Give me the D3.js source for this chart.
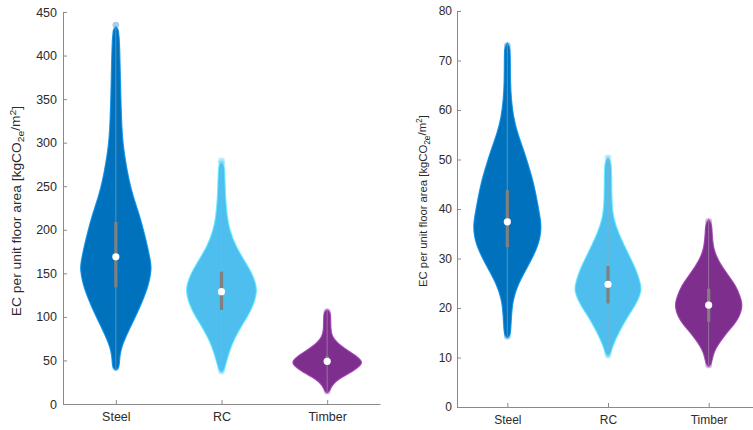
<!DOCTYPE html>
<html>
<head>
<meta charset="utf-8">
<script src="https://cdn.jsdelivr.net/npm/d3@7"></script>
<style>
  html, body { margin: 0; padding: 0; background: #fff; }
  svg { display: block; font-family: "Liberation Sans", Arial, Helvetica, sans-serif; }
</style>
</head>
<body>
<svg id="chart" width="753" height="430"></svg>
<script>
// Building systems compared in both panels
const categories = ["Steel", "RC", "Timber"];
const seriesColors = ["#0072BD", "#4DBEEE", "#7E2F8E"];

// Left panel: density profiles as [value, relative density]
const steelProfileA = [[39,0],[41,0.07],[45,0.1],[54,0.11],[66,0.16],[85,0.37],[104,0.6],[123,0.8],[133,0.89],[142,0.95],[154,1.0],[162,0.99],[180,0.9],[200,0.78],[219,0.65],[238,0.49],[257,0.37],[277,0.28],[296,0.21],[315,0.17],[352,0.14],[391,0.12],[420,0.1],[430,0.07],[433,0]];
const rcProfileA = [[36,0],[38,0.07],[42,0.1],[47,0.13],[67,0.27],[85,0.5],[104,0.79],[114,0.9],[123,0.97],[132,1.0],[142,0.94],[152,0.83],[162,0.69],[181,0.4],[200,0.23],[215,0.16],[238,0.11],[270,0.09],[275,0.07],[278,0]];
const timberProfileA = [[13,0],[15,0.07],[18,0.1],[24,0.18],[31,0.43],[39,0.78],[44,0.93],[48,1.0],[54,0.87],[62,0.56],[70,0.28],[78,0.14],[85,0.1],[104,0.1],[106,0.07],[108,0]];
const mediansA = [169, 129, 49];
const quartilesA = [[134, 209], [108, 152], [45, 55]];
const rangesA = [[39, 432], [36, 276], [14, 107]];
const extremesA = [[42, 395, 400, 404, 408, 412, 420, 428, 435], [38, 276, 279], [15, 106]];
const yTicksA = [0, 50, 100, 150, 200, 250, 300, 350, 400, 450];

// Right panel
const steelProfileB = [[14,0],[14.4,0.07],[15.2,0.1],[18.2,0.12],[21.6,0.16],[25,0.33],[28.3,0.6],[30,0.73],[31.7,0.85],[33.4,0.94],[35.1,0.99],[36.8,1.0],[38.4,0.97],[41.8,0.88],[45.2,0.78],[48.5,0.64],[52,0.48],[55.3,0.3],[58.6,0.18],[62,0.12],[65.4,0.09],[71.5,0.09],[72.8,0.07],[73.5,0]];
const rcProfileB = [[10.2,0],[10.6,0.07],[11.2,0.1],[12.1,0.13],[14.9,0.31],[18.2,0.58],[20,0.76],[21.6,0.89],[23.6,1.0],[25,0.96],[26.6,0.89],[28.3,0.8],[31.7,0.55],[35.1,0.31],[38.4,0.15],[41.8,0.11],[48.5,0.11],[49.9,0.07],[50.5,0]];
const timberProfileB = [[8.2,0],[8.6,0.07],[9.3,0.1],[11.5,0.16],[14.9,0.52],[16.6,0.75],[18.2,0.91],[20.2,1.0],[21.6,0.97],[23.3,0.88],[25,0.76],[28.3,0.39],[31.7,0.12],[36.4,0.1],[37.2,0.07],[37.8,0]];
const mediansB = [37.4, 24.8, 20.6];
const quartilesB = [[32.3, 43.8], [20.9, 28.5], [17.2, 23.9]];
const rangesB = [[14.2, 73.3], [10.4, 50.3], [8.4, 37.6]];
const extremesB = [[14.3, 15, 72, 73], [10.5, 50.3], [8.5, 37.5]];
const yTicksB = [0, 10, 20, 30, 40, 50, 60, 70, 80];

const svg = d3.select("#chart");

function drawPanel(cfg) {
  const g = svg.append("g");
  const x = d3.scaleLinear().domain([0.5, 3.5]).range([cfg.left, cfg.right]);
  const y = d3.scaleLinear().domain(cfg.yDomain).range([cfg.bottom, cfg.top]);
  const halfWidth = 0.335 * (x(2) - x(1));

  cfg.profiles.forEach((profile, i) => {
    const cx = x(i + 1);
    const color = seriesColors[i];
    const area = d3.area()
      .curve(d3.curveBasis)
      .y(d => y(d[0]))
      .x0(d => cx - d[1] * halfWidth)
      .x1(d => cx + d[1] * halfWidth);

    // extreme observations shown as translucent dots
    g.append("g").selectAll("circle").data(cfg.extremes[i]).join("circle")
      .attr("cx", cx).attr("cy", d => y(d)).attr("r", 3.4)
      .attr("fill", color).attr("fill-opacity", 0.35);

    g.append("path").datum(profile).attr("d", area)
      .attr("fill", color)
      .attr("stroke", d3.color(color).brighter(0.6))
      .attr("stroke-width", 1.2)
      .attr("stroke-opacity", 0.8);

    // whisker line through the full range
    g.append("line")
      .attr("x1", cx).attr("x2", cx)
      .attr("y1", y(cfg.ranges[i][0])).attr("y2", y(cfg.ranges[i][1]))
      .attr("stroke", "#a8a8a8").attr("stroke-width", 0.8).attr("stroke-opacity", 0.7);

    // interquartile bar
    g.append("line")
      .attr("x1", cx).attr("x2", cx)
      .attr("y1", y(cfg.quartiles[i][0])).attr("y2", y(cfg.quartiles[i][1]))
      .attr("stroke", "#808080").attr("stroke-width", 3.2);

    // median
    g.append("circle")
      .attr("cx", cx).attr("cy", y(cfg.medians[i])).attr("r", 3.6)
      .attr("fill", "#ffffff");
  });

  const yAxis = g.append("g")
    .attr("transform", `translate(${cfg.left},0)`)
    .call(d3.axisLeft(y).tickValues(cfg.yTicks).tickSizeInner(-4).tickSizeOuter(0).tickPadding(cfg.yPad));
  const xAxis = g.append("g")
    .attr("transform", `translate(0,${cfg.bottom})`)
    .call(d3.axisBottom(x).tickValues([1, 2, 3]).tickFormat((d, i) => categories[i])
      .tickSizeInner(-4).tickSizeOuter(0).tickPadding(8));

  [yAxis, xAxis].forEach(a => {
    a.select(".domain").attr("stroke", "#8a8a8a").attr("stroke-width", 1);
    a.selectAll(".tick line").attr("stroke", "#8a8a8a");
    a.selectAll(".tick text").attr("fill", "#2b2b2b").style("font-size", cfg.fontSize + "px")
      .style("font-family", "'Liberation Sans', Arial, Helvetica, sans-serif");
  });

  // axis title with chemical subscript and unit superscript
  const label = g.append("text")
    .attr("transform", `translate(${cfg.labelX},${cfg.labelY}) rotate(-90) scale(${cfg.labelStretch},1)`)
    .attr("text-anchor", "middle")
    .attr("fill", "#2b2b2b")
    .style("font-size", cfg.labelSize + "px");
  label.append("tspan").text("EC per unit floor area [kgCO");
  label.append("tspan").attr("dy", "0.3em").style("font-size", "0.75em").text("2e");
  label.append("tspan").attr("dy", "-0.3em").text("/m");
  label.append("tspan").attr("dy", "-0.45em").style("font-size", "0.75em").text("2");
  label.append("tspan").attr("dy", "0.45em").text("]");
}

drawPanel({
  left: 63, right: 380, top: 12, bottom: 404,
  yDomain: [0, 450], yTicks: yTicksA, yPad: 6, fontSize: 12.5,
  profiles: [steelProfileA, rcProfileA, timberProfileA],
  medians: mediansA, quartiles: quartilesA, ranges: rangesA, extremes: extremesA,
  labelX: 21, labelY: 211, labelSize: 12, labelStretch: 1.15
});

drawPanel({
  left: 457, right: 759, top: 11, bottom: 407,
  yDomain: [0, 80], yTicks: yTicksB, yPad: 5, fontSize: 12,
  profiles: [steelProfileB, rcProfileB, timberProfileB],
  medians: mediansB, quartiles: quartilesB, ranges: rangesB, extremes: extremesB,
  labelX: 427, labelY: 201, labelSize: 11.5, labelStretch: 0.98
});
</script>
</body>
</html>
